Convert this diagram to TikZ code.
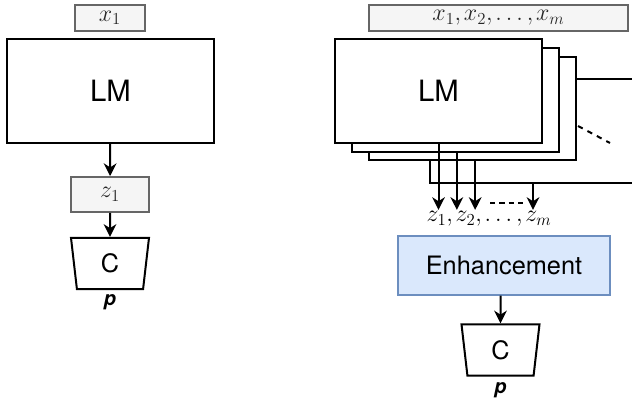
\documentclass[tikz,border=0pt]{standalone}
\usepackage{fix-cm}
\usepackage{amsmath,bm}
\usepackage{fontspec}
\newfontfamily\helv{TeX Gyre Heros}
\usetikzlibrary{arrows.meta,calc,positioning,shapes.geometric}
\definecolor{inbg}{HTML}{F5F5F5}
\definecolor{inln}{HTML}{666666}
\definecolor{enbg}{HTML}{DAE8FC}
\definecolor{enln}{HTML}{6C8EBF}
\newcommand{\cm}{,\mkern-1mu}
\tikzset{
  % grey input / embedding boxes, math in Latin Modern
  inbox/.style={rectangle,fill=inbg,draw=inln,line width=1.4pt,inner sep=0pt,
    text=black!85,font=\fontsize{18}{20}\selectfont},
  lmbox/.style={rectangle,fill=white,draw=black,line width=1.5pt,inner sep=0pt,
    minimum width=155.25pt,minimum height=77.5pt,font=\helv\fontsize{22}{24}\selectfont},
  enhbox/.style={rectangle,fill=enbg,draw=enln,line width=1.1pt,inner sep=0pt,
    minimum width=159pt,minimum height=44.25pt,font=\helv\fontsize{19}{20}\selectfont},
  clf/.style={trapezium,shape border rotate=180,trapezium left angle=73,
    trapezium right angle=73,trapezium stretches body,draw=black,line width=1.5pt,
    inner sep=0pt,minimum width=58.5pt,minimum height=38.5pt,
    font=\helv\fontsize{19}{20}\selectfont},
  plab/.style={inner sep=0pt,font=\helv\bfseries\itshape\fontsize{15}{16}\selectfont},
  zlab/.style={inner sep=1pt,font=\fontsize{18}{20}\selectfont},
  arr/.style={-{Stealth[length=9.5pt,width=9.5pt,inset=3pt]},line width=1.5pt},
  ln/.style={line width=1.5pt}
}

\begin{document}
\begin{tikzpicture}[x=0.75pt,y=-0.75pt]
  \useasboundingbox (0,0) rectangle (632,398);
  % single input
  \node[inbox,minimum width=52.5pt,minimum height=19.5pt] (xa) at (110,18) {$x_1$};
  \node[lmbox] (la) at (110.5,91) {LM};
  \node[inbox,minimum width=58.5pt,minimum height=26.25pt] (za) at (110,194.5) {$z_1$};
  \node[clf] (ca) at (110,263.5) {C};
  \node[plab] (pa) at (110,302) {p};
  \draw[arr] (la) -- (za);
  \draw[arr] (za) -- (ca);

  % multiple inputs
  \node[inbox,minimum width=194.25pt,minimum height=19.5pt] (xb) at (498.5,18) {$x_1\cm x_2\cm \ldots\cm x_m$};
  \node[lmbox] (lc) at (472.5,108.5) {};
  \node[lmbox] (lb) at (455.5,100) {};
  \node[lmbox] (lm) at (438.5,91) {LM};
  \coordinate (ea) at (632,79);
  \coordinate (da) at (578,126);
  \coordinate (db) at (610,143);
  \coordinate (bus) at (430,183);
  \coordinate (busend) at (632,183);
  \coordinate (zmtop) at (533,183);
  \draw[ln] (lc.east |- ea) -- (ea);
  \draw[ln,dashed,dash pattern=on 4pt off 4pt] (da) -- (db);
  \draw[ln] (lc.south -| bus) -- (bus) -- (busend);
  \node[zlab] (zs) at (489,219) {$z_1\cm z_2\cm \ldots\cm z_m$};
  \draw[arr] (lm.south) -- (lm.south |- zs.north);
  \draw[arr] ([xshift=1pt]lb.south) -- ([xshift=1pt]lb.south |- zs.north);
  \draw[arr] ([xshift=2pt]lc.south) -- ([xshift=2pt]lc.south |- zs.north);
  \draw[arr] (zmtop) -- (zmtop |- zs.north);
  \draw[ln,dashed,dash pattern=on 4pt off 3pt] (490,203) -- (527,203);
  \node[enhbox] (enh) at (504,265.5) {Enhancement};
  \node[clf] (cb) at (500.5,350) {C};
  \node[plab] (pb) at (500.5,390) {p};
  \draw[arr] (enh.south -| cb.north) -- (cb);
\end{tikzpicture}
\end{document}
